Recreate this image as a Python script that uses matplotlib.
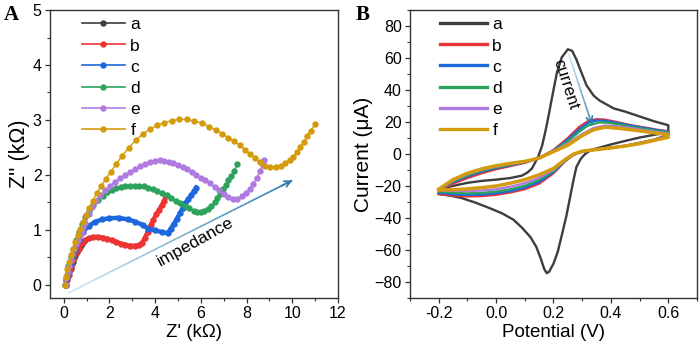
import numpy as np
import matplotlib.pyplot as plt
from matplotlib.collections import LineCollection
from matplotlib.ticker import MultipleLocator

plt.rcParams['font.family'] = ['Liberation Sans', 'DejaVu Sans']
plt.rcParams['font.size'] = 11.5

labels = ['a', 'b', 'c', 'd', 'e', 'f']
colors = ['#3d3d3d', '#ec3434', '#1c68dc', '#2ca25c', '#b07be0', '#d49b0c']

# ---- Panel A: Nyquist plots (kOhm) ----
eis_a_x = [0.05, 0.12, 0.2, 0.3, 0.4, 0.5, 0.6, 0.7, 0.8, 0.9]
eis_a_y = [0.0, 0.08, 0.18, 0.3, 0.42, 0.52, 0.6, 0.68, 0.75, 0.8]

eis_b_x = [0.08, 0.15, 0.22, 0.3, 0.38, 0.46, 0.55, 0.66, 0.8, 0.95, 1.1, 1.3, 1.5, 1.7,
           1.9, 2.1, 2.3, 2.5, 2.7, 2.9, 3.1, 3.28, 3.42, 3.55, 3.68, 3.8, 3.92, 4.05,
           4.18, 4.3, 4.4, 4.48]
eis_b_y = [0.0, 0.08, 0.18, 0.28, 0.38, 0.48, 0.57, 0.66, 0.76, 0.82, 0.85, 0.87, 0.87,
           0.86, 0.84, 0.81, 0.78, 0.75, 0.73, 0.71, 0.71, 0.72, 0.76, 0.85, 0.97, 1.08,
           1.18, 1.28, 1.37, 1.45, 1.53, 1.62]

eis_c_x = [0.08, 0.15, 0.22, 0.3, 0.4, 0.5, 0.66, 0.85, 1.09, 1.35, 1.68, 2.0, 2.4, 2.8,
           3.13, 3.45, 3.71, 4.0, 4.3, 4.55, 4.68, 4.82, 4.95, 5.08, 5.2, 5.32, 5.45,
           5.58, 5.7, 5.8]
eis_c_y = [0.0, 0.12, 0.24, 0.38, 0.52, 0.64, 0.82, 0.97, 1.07, 1.14, 1.19, 1.21, 1.22,
           1.19, 1.15, 1.09, 1.02, 0.99, 0.96, 0.94, 1.02, 1.11, 1.2, 1.3, 1.39, 1.48,
           1.56, 1.63, 1.7, 1.77]

eis_d_x = [0.08, 0.14, 0.21, 0.3, 0.4, 0.52, 0.65, 0.8, 0.95, 1.12, 1.3, 1.5, 1.7, 1.9,
           2.1, 2.3, 2.5, 2.7, 2.9, 3.1, 3.3, 3.5, 3.7, 3.9, 4.1, 4.3, 4.5, 4.7, 4.9,
           5.1, 5.3, 5.5, 5.7, 5.85, 6.0, 6.15, 6.3, 6.45, 6.6, 6.72, 6.84, 6.96, 7.08,
           7.2, 7.32, 7.45, 7.6]
eis_d_y = [0.0, 0.18, 0.34, 0.5, 0.66, 0.82, 0.96, 1.1, 1.23, 1.34, 1.45, 1.54, 1.62,
           1.68, 1.72, 1.76, 1.78, 1.8, 1.8, 1.8, 1.8, 1.79, 1.77, 1.75, 1.71, 1.67,
           1.63, 1.58, 1.53, 1.48, 1.43, 1.39, 1.35, 1.33, 1.32, 1.34, 1.38, 1.44, 1.5,
           1.58, 1.66, 1.74, 1.82, 1.9, 1.98, 2.07, 2.19]

eis_e_x = [0.08, 0.12, 0.17, 0.23, 0.3, 0.38, 0.46, 0.54, 0.62, 0.7, 0.78, 0.86, 0.95,
           1.1, 1.26, 1.42, 1.6, 1.8, 2.04, 2.26, 2.48, 2.7, 2.91, 3.13, 3.35, 3.57,
           3.79, 4.0, 4.2, 4.4, 4.6, 4.8, 5.0, 5.2, 5.4, 5.6, 5.8, 6.0, 6.2, 6.4, 6.6,
           6.8, 7.0, 7.2, 7.4, 7.6, 7.8, 7.98, 8.15, 8.3, 8.45, 8.6, 8.7, 8.78]
eis_e_y = [0.0, 0.12, 0.24, 0.35, 0.46, 0.56, 0.66, 0.74, 0.82, 0.9, 0.97, 1.05, 1.12,
           1.28, 1.42, 1.53, 1.63, 1.72, 1.8, 1.88, 1.94, 2.0, 2.06, 2.11, 2.16, 2.2,
           2.24, 2.26, 2.27, 2.26, 2.24, 2.21, 2.18, 2.14, 2.1, 2.06, 2.0, 1.95, 1.9,
           1.85, 1.78, 1.72, 1.65, 1.59, 1.56, 1.57, 1.61, 1.67, 1.75, 1.84, 1.95, 2.08,
           2.18, 2.28]

eis_f_x = [0.05, 0.1, 0.16, 0.23, 0.31, 0.4, 0.5, 0.61, 0.72, 0.84, 0.97, 1.11, 1.27,
           1.45, 1.64, 1.85, 2.07, 2.3, 2.55, 2.84, 3.15, 3.45, 3.76, 4.07, 4.4, 4.73,
           5.06, 5.39, 5.72, 6.05, 6.35, 6.65, 6.93, 7.2, 7.45, 7.7, 7.93, 8.15, 8.37,
           8.58, 8.8, 9.03, 9.27, 9.5, 9.7, 9.88, 10.05, 10.2, 10.35, 10.5, 10.65, 10.8,
           11.0]
eis_f_y = [0.0, 0.14, 0.28, 0.41, 0.54, 0.66, 0.78, 0.9, 1.02, 1.14, 1.27, 1.4, 1.53,
           1.67, 1.8, 1.93, 2.06, 2.2, 2.34, 2.49, 2.63, 2.74, 2.83, 2.9, 2.95, 2.99,
           3.01, 3.01, 2.98, 2.94, 2.88, 2.82, 2.75, 2.68, 2.61, 2.54, 2.46, 2.38, 2.3,
           2.23, 2.17, 2.15, 2.15, 2.17, 2.21, 2.27, 2.33, 2.41, 2.5, 2.6, 2.71, 2.8,
           2.92]

eis_x = [eis_a_x, eis_b_x, eis_c_x, eis_d_x, eis_e_x, eis_f_x]
eis_y = [eis_a_y, eis_b_y, eis_c_y, eis_d_y, eis_e_y, eis_f_y]

# ---- Panel B: cyclic voltammograms (V, uA), loop: upper branch then lower ----
cv_a_e = [-0.2, -0.16, -0.1, -0.05, 0.0, 0.05, 0.09, 0.11, 0.125, 0.137, 0.148, 0.16,
          0.171, 0.183, 0.194, 0.212, 0.229, 0.25, 0.265, 0.28, 0.295, 0.315, 0.34,
          0.36, 0.41, 0.45, 0.5, 0.55, 0.6,
          0.6, 0.55, 0.5, 0.45, 0.4, 0.36, 0.33, 0.31, 0.295, 0.28, 0.27, 0.26, 0.245,
          0.23, 0.215, 0.2, 0.185, 0.177, 0.168, 0.155, 0.14, 0.12, 0.09, 0.06, 0.02,
          -0.02, -0.07, -0.12, -0.16, -0.2]
cv_a_i = [-23, -20.3, -18, -16.8, -16, -15, -13.5, -11.5, -9, -5, -1, 5, 13.5, 24, 34.5,
          51, 60.5, 65.5, 64.5, 59, 52, 43, 36.5, 33.5, 28.5, 26.5, 23.5, 20.5, 18,
          13.5, 12, 10.3, 8.2, 6, 4, 2.5, 0, -3, -8, -16, -25, -38.6, -50, -61, -68.5,
          -73.5, -74.5, -72, -65, -58, -52, -46, -41, -37, -34, -30.5, -27.5, -26, -25]

cv_b_e = [-0.2, -0.15, -0.1, -0.05, 0.0, 0.05, 0.1, 0.15, 0.2, 0.25, 0.29, 0.32, 0.35,
          0.38, 0.42, 0.47, 0.52, 0.56, 0.6,
          0.6, 0.55, 0.5, 0.45, 0.4, 0.35, 0.3, 0.27, 0.24, 0.2, 0.15, 0.1, 0.05, 0.0,
          -0.05, -0.1, -0.15, -0.2]
cv_b_i = [-23, -18.5, -15, -12, -9.5, -7.5, -5.5, -2.5, 2.5, 10, 17, 20.5, 21.8, 21.5,
          20, 18, 16.5, 15.2, 14.2,
          12, 9, 7, 5.2, 4, 3, 1.5, -0.5, -4.5, -12, -18.5, -22, -24, -25.5, -26.3,
          -26.5, -26, -25]

cv_c_e = cv_b_e
cv_c_i = [-22.5, -17.5, -14, -11, -8.8, -7, -5.2, -2.5, 2.2, 9, 15.5, 19.5, 21, 20.8,
          19.5, 17.7, 16.2, 15, 14,
          11.8, 8.8, 6.9, 5.1, 3.9, 2.9, 1.6, -0.3, -4.3, -11.3, -17.5, -21, -23.2,
          -24.6, -25.4, -25.6, -25.2, -24.2]

cv_d_e = [-0.2, -0.15, -0.1, -0.05, 0.0, 0.05, 0.1, 0.15, 0.2, 0.25, 0.29, 0.32, 0.36,
          0.39, 0.43, 0.47, 0.52, 0.56, 0.6,
          0.6, 0.55, 0.5, 0.45, 0.4, 0.35, 0.3, 0.27, 0.24, 0.2, 0.15, 0.1, 0.05, 0.0,
          -0.05, -0.1, -0.15, -0.2]
cv_d_i = [-22.3, -17, -13.3, -10.4, -8.3, -6.6, -5, -2.5, 2, 8, 14, 17.8, 19.8, 19.6,
          18.5, 17, 15.6, 14.5, 13.5,
          11.4, 8.7, 6.8, 5.1, 3.9, 2.9, 1.7, -0.2, -4, -10.5, -16.2, -19.8, -22, -23.5,
          -24.3, -24.6, -24.2, -23.5]

cv_e_e = [-0.2, -0.15, -0.1, -0.05, 0.0, 0.05, 0.1, 0.15, 0.2, 0.25, 0.3, 0.34, 0.38,
          0.42, 0.47, 0.52, 0.56, 0.6,
          0.6, 0.55, 0.5, 0.45, 0.4, 0.35, 0.3, 0.27, 0.24, 0.2, 0.15, 0.1, 0.05, 0.0,
          -0.05, -0.1, -0.15, -0.2]
cv_e_i = [-22.2, -16.5, -12.6, -9.8, -7.8, -6.2, -4.8, -2.5, 1.7, 6.5, 12.5, 16.3, 17.8,
          17.4, 16.2, 14.8, 13.8, 12.9,
          11, 8.6, 6.6, 5, 3.8, 2.8, 1.7, -0.1, -3.8, -9.8, -14.8, -18.2, -20.4, -22,
          -22.8, -23.2, -23, -22.8]

cv_f_e = [-0.2, -0.15, -0.1, -0.05, 0.0, 0.05, 0.1, 0.15, 0.2, 0.25, 0.3, 0.34, 0.38,
          0.42, 0.47, 0.52, 0.56, 0.6,
          0.6, 0.55, 0.5, 0.45, 0.4, 0.35, 0.3, 0.27, 0.24, 0.2, 0.15, 0.1, 0.05, 0.0,
          -0.05, -0.1, -0.15, -0.2]
cv_f_i = [-22, -16, -12, -9.3, -7.3, -5.8, -4.6, -2.5, 1.5, 5.5, 11.5, 15.2, 16.8, 16.2,
          15.2, 14, 13, 12.2,
          10.5, 8.5, 6.5, 5, 3.8, 2.8, 1.8, 0, -3.5, -9, -13, -16, -18.2, -20, -21,
          -21.8, -22.3, -22.5]

cv_e = [cv_a_e, cv_b_e, cv_c_e, cv_d_e, cv_e_e, cv_f_e]
cv_i = [cv_a_i, cv_b_i, cv_c_i, cv_d_i, cv_e_i, cv_f_i]


def gradient_arrow(ax, start, end, c0, c1, lw=1.2):
    # line fading from light to dark, with a head at the end
    n = 60
    xs = np.linspace(start[0], end[0], n + 1)
    ys = np.linspace(start[1], end[1], n + 1)
    segs = [[(xs[k], ys[k]), (xs[k + 1], ys[k + 1])] for k in range(n)]
    c0 = np.array(plt.matplotlib.colors.to_rgb(c0))
    c1 = np.array(plt.matplotlib.colors.to_rgb(c1))
    cols = [c0 + (c1 - c0) * t for t in np.linspace(0, 1, n)]
    ax.add_collection(LineCollection(segs, colors=cols, linewidths=lw, zorder=5))
    ax.annotate('', xy=end, xytext=(xs[-4], ys[-4]),
                arrowprops=dict(arrowstyle='->', color=c1, lw=lw,
                                mutation_scale=11, shrinkA=0, shrinkB=0), zorder=5)


def style_axes(ax):
    for s in ax.spines.values():
        s.set_color('#333333')
        s.set_linewidth(1.0)
    ax.tick_params(which='both', direction='out', top=False, right=False,
                   color='#333333', labelsize=11.5, pad=2.5)
    ax.tick_params(which='major', length=3.5, width=0.9)
    ax.tick_params(which='minor', length=2, width=0.8)


fig = plt.figure(figsize=(7, 3.52), dpi=100)
axA = fig.add_axes([0.0714, 0.1534, 0.4114, 0.818])
axB = fig.add_axes([0.5857, 0.1534, 0.41, 0.818])

for k in range(6):
    # b and c are so densely sampled that their markers merge into a thick line
    lw = 3.2 if k in (1, 2) else (2.2 if k == 0 else 1.0)
    axA.plot(eis_x[k], eis_y[k], '-o', color=colors[k], lw=lw, ms=4.6,
             mew=0, label=labels[k])
gradient_arrow(axA, (0.2, -0.15), (10.0, 1.9), '#cdeaf5', '#2a78ad')
axA.text(5.75, 0.78, 'impedance', rotation=29, ha='center', va='center',
         fontsize=12.5, rotation_mode='anchor')
axA.set_xlim(-0.6, 12)
axA.set_ylim(-0.24, 5)
axA.xaxis.set_major_locator(MultipleLocator(2))
axA.xaxis.set_minor_locator(MultipleLocator(1))
axA.yaxis.set_major_locator(MultipleLocator(1))
axA.yaxis.set_minor_locator(MultipleLocator(0.5))
axA.set_xlabel("Z' (kΩ)", fontsize=13.5, labelpad=2)
axA.set_ylabel("Z'' (kΩ)", fontsize=15.5, labelpad=2)
style_axes(axA)
legA = axA.legend(loc='upper left', bbox_to_anchor=(0.08, 1.005), frameon=False,
                  handlelength=2.5, handletextpad=0.3, labelspacing=0.34,
                  borderpad=0, fontsize=12.5)
for h in legA.get_lines():
    h.set_linewidth(1.2)

for k in range(6):
    axB.plot(cv_e[k], cv_i[k], '-', color=colors[k],
             lw=2.5 if k == 5 else 1.7, label=labels[k])
gradient_arrow(axB, (0.252, 63), (0.334, 18.5), '#cdeaf5', '#2a78ad')
axB.text(0.242, 43.5, 'current', rotation=-72, ha='center', va='center',
         fontsize=12, rotation_mode='anchor')
axB.set_xlim(-0.3, 0.7)
axB.set_ylim(-90, 90)
axB.xaxis.set_major_locator(MultipleLocator(0.2))
axB.xaxis.set_minor_locator(MultipleLocator(0.1))
axB.yaxis.set_major_locator(MultipleLocator(20))
axB.yaxis.set_minor_locator(MultipleLocator(10))
axB.xaxis.set_major_formatter(plt.FuncFormatter(lambda v, p: f'{v:.1f}'))
axB.set_xlabel('Potential (V)', fontsize=13.5, labelpad=2)
axB.set_ylabel('Current (μA)', fontsize=15, labelpad=1)
style_axes(axB)
legB = axB.legend(loc='upper left', bbox_to_anchor=(0.075, 1.005), frameon=False,
                  handlelength=2.7, handletextpad=0.3, labelspacing=0.34,
                  borderpad=0, fontsize=12.5)
for h in legB.get_lines():
    h.set_linewidth(2.4)

fig.text(0.006, 0.985, 'A', family='Liberation Serif', fontweight='bold',
         fontsize=15, va='top')
fig.text(0.508, 0.985, 'B', family='Liberation Serif', fontweight='bold',
         fontsize=15, va='top')

fig.savefig('out.png', dpi=100)
